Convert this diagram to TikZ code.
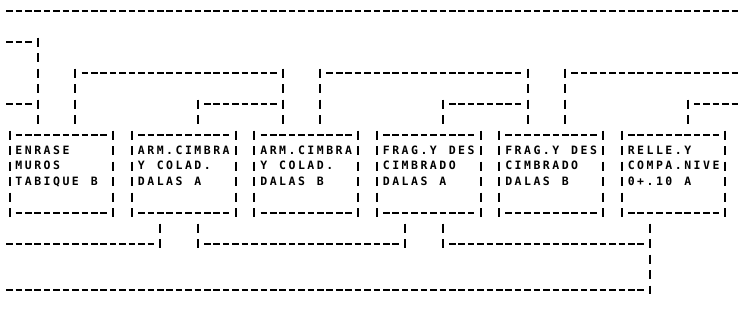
\documentclass[tikz,border=0pt]{standalone}
\usepackage{fontspec}
\setmonofont{DejaVu Sans Mono}
\usetikzlibrary{calc}
\makeatletter
\newlength\cw \setlength\cw{9.42pt}
\newcommand\mono[1]{\mono@#1\@nil}
\def\mono@#1{\ifx#1\@nil\else\makebox[\cw][c]{#1}\expandafter\mono@\fi}
\makeatother
\newcommand\bline[1]{\hbox to 10\cw{\rule[-4pt]{0pt}{15.5pt}\mono{#1}\hfil}}
\newcommand\btext[3]{\vbox{\offinterlineskip\bline{#1}\bline{#2}\bline{#3}\bline{}}}
\tikzset{
  hl/.style={line width=2pt, dash pattern=on 6.6pt off 2.82pt},
  vl/.style={line width=2pt, dash pattern=on 9pt off 6.5pt},
  taskbox/.style={draw=none, inner xsep=0.5\cw, inner ysep=7.75pt, outer sep=0pt,
    font=\ttfamily\bfseries\fontsize{11.5}{13}\selectfont}
}
\begin{document}
\begin{tikzpicture}[x=9.42pt, y=-15.5pt]
\useasboundingbox[fill=white] (-1.0085,-0.7097) rectangle (77.548,19.935);

% boxes
\node[taskbox] (b0) at (5.5,10.5)  {\btext{ENRASE}{MUROS}{TABIQUE~B}};
\node[taskbox] (b1) at (18.5,10.5) {\btext{ARM.CIMBRA}{Y~COLAD.}{DALAS~A}};
\node[taskbox] (b2) at (31.5,10.5) {\btext{ARM.CIMBRA}{Y~COLAD.}{DALAS~B}};
\node[taskbox] (b3) at (44.5,10.5) {\btext{FRAG.Y~DES}{CIMBRADO}{DALAS~A}};
\node[taskbox] (b4) at (57.5,10.5) {\btext{FRAG.Y~DES}{CIMBRADO}{DALAS~B}};
\node[taskbox] (b5) at (70.5,10.5) {\btext{RELLE.Y}{COMPA.NIVE}{0+.10~A}};

\foreach \b in {b0,b1,b2,b3,b4,b5}{
  \draw[vl] ($(\b.north west)+(0,-0.29)$) -- ($(\b.south west)+(0,0.29)$);
  \draw[vl] ($(\b.north east)+(0,-0.29)$) -- ($(\b.south east)+(0,0.29)$);
  \draw[hl] ($(\b.north west)+(0.65,0)$) -- ($(\b.north east)+(-0.65,0)$);
  \draw[hl] ($(\b.south west)+(0.65,0)$) -- ($(\b.south east)+(-0.65,0)$);
}

% free ends and junctions
\coordinate (t0) at (-0.35,0);  \coordinate (t1) at (77.35,0);
\coordinate (a1) at (-0.35,2);  \coordinate (a2) at (-0.35,6);
\coordinate (r4) at (77.35,4);  \coordinate (r6) at (77.35,6);
\coordinate (l15) at (-0.35,15); \coordinate (l18) at (-0.35,18);
\coordinate (j1) at (3,2);
\coordinate (j2) at (7,4);  \coordinate (j3) at (29,4);
\coordinate (j4) at (20,6);
\coordinate (j5) at (33,4); \coordinate (j6) at (55,4);
\coordinate (j7) at (46,6);
\coordinate (j8) at (59,4);
\coordinate (j9) at (72,6);
\coordinate (j10) at (16,15);
\coordinate (j11) at (20,15); \coordinate (j12) at (42,15);
\coordinate (j13) at (46,15); \coordinate (j14) at (68,15); \coordinate (j15) at (68,18);

% top rule
\draw[hl] (t0) -- (t1);

% connectors above the boxes
\draw[hl] (a1) -- ($(j1)+(-0.65,0)$);
\draw[hl] (a2) -- ($(j1|-a2)+(-0.65,0)$);
\draw[vl] ($(j1)+(0,-0.29)$) -- ($(b0.north west)+(3,-0.71)$);

\draw[vl] ($(j2)+(0,-0.29)$) -- ($(b0.north west)+(7,-0.71)$);
\draw[hl] ($(j2)+(0.65,0)$) -- ($(j3)+(-0.65,0)$);
\draw[vl] ($(j3)+(0,-0.29)$) -- ($(b2.north west)+(3,-0.71)$);

\draw[vl] ($(j4)+(0,-0.29)$) -- ($(b1.north west)+(7,-0.71)$);
\draw[hl] ($(j4)+(0.65,0)$) -- ($(j3|-j4)+(-0.65,0)$);

\draw[vl] ($(j5)+(0,-0.29)$) -- ($(b2.north west)+(7,-0.71)$);
\draw[hl] ($(j5)+(0.65,0)$) -- ($(j6)+(-0.65,0)$);
\draw[vl] ($(j6)+(0,-0.29)$) -- ($(b4.north west)+(3,-0.71)$);

\draw[vl] ($(j7)+(0,-0.29)$) -- ($(b3.north west)+(7,-0.71)$);
\draw[hl] ($(j7)+(0.65,0)$) -- ($(j6|-j7)+(-0.65,0)$);

\draw[vl] ($(j8)+(0,-0.29)$) -- ($(b4.north west)+(7,-0.71)$);
\draw[hl] ($(j8)+(0.65,0)$) -- (r4);

\draw[vl] ($(j9)+(0,-0.29)$) -- ($(b5.north west)+(7,-0.71)$);
\draw[hl] ($(j9)+(0.65,0)$) -- (r6);

% connectors below the boxes
\draw[vl] ($(b1.south west)+(3,0.71)$) -- ($(j10)+(0,0.29)$);
\draw[hl] (l15) -- ($(j10)+(-0.65,0)$);

\draw[vl] ($(b1.south west)+(7,0.71)$) -- ($(j11)+(0,0.29)$);
\draw[hl] ($(j11)+(0.65,0)$) -- ($(j12)+(-0.65,0)$);
\draw[vl] ($(b3.south west)+(3,0.71)$) -- ($(j12)+(0,0.29)$);

\draw[vl] ($(b3.south west)+(7,0.71)$) -- ($(j13)+(0,0.29)$);
\draw[hl] ($(j13)+(0.65,0)$) -- ($(j14)+(-0.65,0)$);
\draw[vl] ($(b5.south west)+(3,0.71)$) -- ($(j15)+(0,0.29)$);
\draw[hl] (l18) -- ($(j15)+(-0.65,0)$);
\end{tikzpicture}
\end{document}
